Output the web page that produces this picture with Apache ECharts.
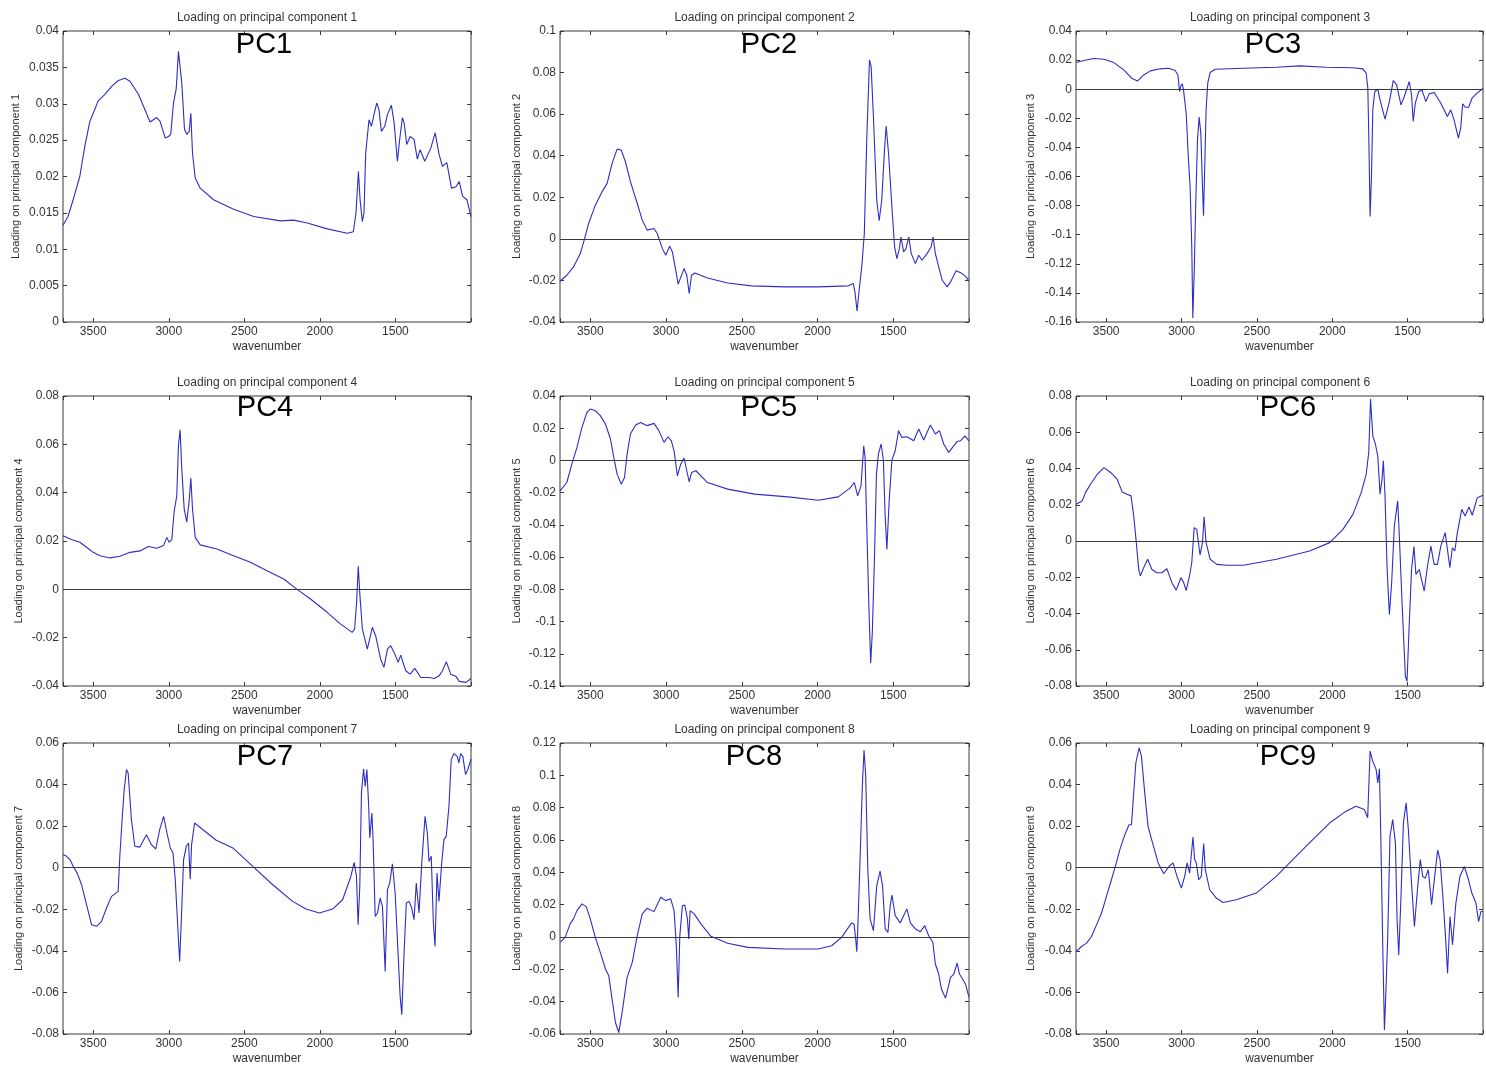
<!DOCTYPE html>
<html>
<head>
<meta charset="utf-8">
<script src="https://cdn.jsdelivr.net/npm/echarts@6/dist/echarts.min.js"></script>
<style>
html,body{margin:0;padding:0;background:#fff;}
#chart{width:1486px;height:1069px;}
</style>
</head>
<body>
<div id="chart"></div>
<script>
// ---------- data ----------
const xLabel = 'wavenumber';
const panelTitles = [1,2,3,4,5,6,7,8,9].map(n => 'Loading on principal component ' + n);
const yNames = panelTitles;
const pcLabels = ['PC1','PC2','PC3','PC4','PC5','PC6','PC7','PC8','PC9'];
const xMin = 1000, xMax = 3700, xStep = 500;
const yMin  = [0,     -0.04, -0.16, -0.04, -0.14, -0.08, -0.08, -0.06, -0.08];
const yMax  = [0.04,   0.1,   0.04,  0.08,  0.04,  0.08,  0.06,  0.12,  0.06];
const yStep = [0.005,  0.02,  0.02,  0.02,  0.02,  0.02,  0.02,  0.02,  0.02];

const pc1 = [[3700,0.0133],[3667,0.0145],[3633,0.0168],[3589,0.020],[3555,0.0242],[3522,0.0276],[3500,0.0287],[3467,0.0304],[3423,0.0313],[3378,0.0324],[3334,0.0332],[3290,0.0335],[3257,0.0331],[3201,0.0313],[3168,0.0297],[3124,0.0275],[3080,0.0281],[3058,0.0276],[3024,0.0253],[3002,0.0255],[2987,0.0258],[2969,0.0301],[2951,0.032],[2936,0.0372],[2925,0.037],[2914,0.0329],[2896,0.0265],[2881,0.0258],[2865,0.0262],[2854,0.0287],[2843,0.0232],[2825,0.0198],[2792,0.0184],[2704,0.0168],[2571,0.0155],[2438,0.0145],[2261,0.0139],[2173,0.014],[2084,0.0136],[1951,0.0128],[1819,0.0122],[1779,0.0124],[1761,0.015],[1745,0.0207],[1734,0.0168],[1719,0.0138],[1708,0.015],[1697,0.0232],[1675,0.0278],[1659,0.0269],[1642,0.0285],[1624,0.0301],[1609,0.0292],[1593,0.0262],[1571,0.0269],[1553,0.0285],[1527,0.0298],[1509,0.0274],[1487,0.0221],[1472,0.0251],[1454,0.0281],[1443,0.0274],[1425,0.0244],[1403,0.0255],[1377,0.0251],[1355,0.0224],[1337,0.0237],[1306,0.0221],[1266,0.0239],[1237,0.026],[1211,0.023],[1189,0.0214],[1160,0.0219],[1129,0.0184],[1100,0.0186],[1078,0.0193],[1056,0.0173],[1027,0.0168],[1000,0.0145]];

const pc2 = [[3700,-0.0204],[3655,-0.0175],[3611,-0.0135],[3566,-0.0071],[3538,0],[3511,0.0074],[3467,0.0162],[3423,0.0226],[3389,0.0267],[3356,0.0363],[3323,0.0432],[3296,0.0427],[3268,0.0371],[3235,0.0275],[3190,0.017],[3157,0.009],[3124,0.0042],[3080,0.005],[3058,0.0026],[3024,-0.0047],[3002,-0.0079],[2976,-0.0035],[2958,-0.0063],[2940,-0.0135],[2920,-0.0218],[2881,-0.0143],[2863,-0.0175],[2847,-0.0263],[2832,-0.0175],[2810,-0.0164],[2726,-0.0188],[2593,-0.0212],[2438,-0.0226],[2217,-0.0231],[1996,-0.0231],[1797,-0.0226],[1764,-0.0215],[1753,-0.0255],[1739,-0.0347],[1724,-0.0239],[1708,-0.0135],[1691,0.0026],[1675,0.0475],[1657,0.0861],[1646,0.0829],[1631,0.0588],[1609,0.0186],[1593,0.0087],[1576,0.0186],[1558,0.0427],[1547,0.0543],[1531,0.0411],[1509,0.0154],[1491,-0.0039],[1476,-0.0095],[1460,-0.0047],[1449,0.001],[1432,-0.0063],[1416,-0.0047],[1398,0.001],[1381,-0.0071],[1354,-0.0119],[1332,-0.0079],[1310,-0.0103],[1277,-0.0071],[1250,-0.0039],[1237,0.001],[1222,-0.0071],[1200,-0.0135],[1177,-0.0199],[1144,-0.0231],[1122,-0.0207],[1085,-0.0154],[1045,-0.0167],[1019,-0.0183],[1000,-0.0204]];

const pc3 = [[3700,0.0183],[3648,0.0197],[3582,0.0211],[3515,0.0206],[3449,0.0183],[3383,0.0133],[3328,0.0073],[3291,0.0057],[3251,0.0098],[3207,0.0126],[3141,0.014],[3086,0.0144],[3042,0.0128],[3024,0.0098],[3013,-0.0016],[3004,0.0023],[2995,0.0037],[2987,-0.0005],[2969,-0.0165],[2954,-0.0486],[2943,-0.0669],[2932,-0.1081],[2925,-0.1573],[2916,-0.1264],[2905,-0.076],[2894,-0.0348],[2883,-0.0192],[2872,-0.0302],[2861,-0.0669],[2854,-0.087],[2846,-0.0531],[2837,-0.0142],[2826,0.0041],[2810,0.0115],[2777,0.0137],[2590,0.0144],[2370,0.0151],[2216,0.016],[2039,0.0151],[1863,0.0147],[1797,0.014],[1775,0.011],[1764,0.0007],[1758,-0.0302],[1749,-0.0875],[1740,-0.06],[1731,-0.0142],[1718,-0.0016],[1698,0],[1683,-0.0073],[1650,-0.0206],[1621,-0.0085],[1595,0.006],[1573,0.003],[1544,-0.0108],[1522,-0.005],[1489,0.0053],[1474,-0.0039],[1463,-0.0222],[1449,-0.0096],[1427,-0.0016],[1405,-0.0005],[1379,-0.0085],[1357,-0.0032],[1324,-0.0023],[1280,-0.0096],[1236,-0.0188],[1214,-0.0142],[1192,-0.0211],[1163,-0.0337],[1148,-0.0268],[1135,-0.0101],[1117,-0.0124],[1095,-0.0124],[1073,-0.0062],[1040,-0.0027],[1000,0.0005]];

const pc4 = [[3700,0.0222],[3644,0.0206],[3588,0.0195],[3544,0.0174],[3500,0.0153],[3456,0.0139],[3389,0.013],[3323,0.0137],[3257,0.0153],[3190,0.0159],[3135,0.0177],[3080,0.017],[3035,0.0181],[3013,0.0215],[2998,0.0195],[2980,0.0206],[2965,0.0319],[2947,0.0388],[2936,0.0595],[2925,0.066],[2914,0.0499],[2898,0.0333],[2881,0.0278],[2865,0.0367],[2854,0.0461],[2843,0.0333],[2825,0.0215],[2792,0.0184],[2682,0.0167],[2571,0.0139],[2460,0.0112],[2350,0.0077],[2239,0.0043],[2151,0],[2062,-0.004],[1952,-0.0095],[1863,-0.0144],[1786,-0.0178],[1770,-0.0164],[1757,-0.0054],[1746,0.0095],[1735,-0.0026],[1719,-0.0164],[1686,-0.0247],[1653,-0.0157],[1631,-0.0192],[1598,-0.0289],[1576,-0.0323],[1553,-0.0247],[1531,-0.0233],[1509,-0.0261],[1482,-0.0302],[1465,-0.0272],[1432,-0.0337],[1403,-0.0351],[1372,-0.0327],[1332,-0.0365],[1277,-0.0365],[1244,-0.0369],[1211,-0.0358],[1189,-0.0337],[1163,-0.03],[1134,-0.0351],[1100,-0.036],[1078,-0.0381],[1033,-0.0385],[1000,-0.0369]];

const pc5 = [[3700,-0.0189],[3655,-0.0137],[3622,-0.0023],[3588,0.0081],[3555,0.0205],[3522,0.0299],[3500,0.0319],[3467,0.0309],[3434,0.0278],[3400,0.0226],[3367,0.0133],[3345,0.0019],[3323,-0.0085],[3296,-0.0147],[3274,-0.0106],[3257,0.0039],[3235,0.0164],[3201,0.022],[3168,0.0236],[3124,0.0216],[3080,0.023],[3047,0.0185],[3013,0.0112],[2987,0.0147],[2965,0.0122],[2947,0.006],[2925,-0.0095],[2903,-0.0023],[2881,0.0015],[2863,-0.0064],[2847,-0.0133],[2832,-0.0075],[2803,-0.0064],[2726,-0.0137],[2593,-0.0178],[2416,-0.0209],[2195,-0.0226],[1996,-0.0247],[1863,-0.0226],[1786,-0.0172],[1757,-0.0137],[1735,-0.022],[1713,-0.0158],[1695,0.0091],[1686,0.0019],[1673,-0.0479],[1660,-0.0935],[1649,-0.1257],[1638,-0.106],[1624,-0.0604],[1611,-0.0085],[1598,0.0039],[1580,0.0102],[1565,-0.0002],[1554,-0.0334],[1542,-0.0552],[1527,-0.0251],[1509,0.0002],[1487,0.006],[1465,0.0185],[1443,0.0143],[1410,0.0147],[1365,0.0122],[1332,0.0195],[1299,0.0127],[1255,0.022],[1222,0.0164],[1195,0.0185],[1167,0.0102],[1134,0.005],[1078,0.0118],[1056,0.0122],[1027,0.0153],[1000,0.0122]];

const pc6 = [[3700,0.0203],[3659,0.0221],[3637,0.0267],[3604,0.0313],[3559,0.0368],[3515,0.0405],[3471,0.0378],[3427,0.0341],[3394,0.0271],[3361,0.0258],[3335,0.0249],[3317,0.0138],[3300,-0.0009],[3284,-0.0157],[3273,-0.0193],[3251,-0.0147],[3225,-0.0101],[3196,-0.0157],[3163,-0.0175],[3130,-0.0175],[3097,-0.0153],[3064,-0.023],[3035,-0.0271],[3004,-0.0203],[2987,-0.0227],[2969,-0.0273],[2947,-0.0193],[2932,-0.012],[2916,0.0074],[2899,0.0064],[2877,-0.0077],[2861,-0.0009],[2850,0.0133],[2837,-0.0009],[2810,-0.0101],[2766,-0.0129],[2700,-0.0134],[2590,-0.0134],[2370,-0.0101],[2150,-0.0055],[2017,-0.0009],[1929,0.0064],[1863,0.0147],[1808,0.0267],[1775,0.0368],[1758,0.0488],[1746,0.0783],[1731,0.058],[1714,0.0534],[1698,0.047],[1683,0.0258],[1670,0.0341],[1661,0.0442],[1650,0.0249],[1636,-0.0157],[1621,-0.0405],[1606,-0.023],[1588,0.0083],[1566,0.0221],[1555,0.0028],[1537,-0.0341],[1515,-0.0746],[1504,-0.0774],[1489,-0.0451],[1474,-0.0157],[1458,-0.0031],[1445,-0.0184],[1423,-0.0157],[1390,-0.0276],[1368,-0.0138],[1346,-0.0028],[1324,-0.0129],[1302,-0.0129],[1280,-0.0028],[1251,0.0046],[1236,-0.0046],[1220,-0.0147],[1203,-0.0037],[1187,-0.0055],[1170,0.0046],[1141,0.0175],[1119,0.0138],[1093,0.0188],[1071,0.0142],[1038,0.0239],[1000,0.0252]];

const pc7 = [[3700,0.0063],[3676,0.0055],[3654,0.0039],[3632,0.0006],[3606,-0.0026],[3577,-0.0082],[3555,-0.0146],[3533,-0.021],[3511,-0.0274],[3478,-0.0282],[3445,-0.0258],[3412,-0.0194],[3379,-0.0138],[3350,-0.0122],[3335,-0.0114],[3324,0.0055],[3306,0.0263],[3295,0.0375],[3280,0.0472],[3269,0.0456],[3247,0.0231],[3225,0.0103],[3192,0.0099],[3148,0.0159],[3115,0.0111],[3086,0.009],[3060,0.0183],[3034,0.0247],[3012,0.0167],[2990,0.0095],[2972,0.0071],[2957,-0.0058],[2943,-0.025],[2928,-0.0451],[2917,-0.025],[2902,0.0039],[2884,0.0103],[2869,0.0119],[2858,-0.0055],[2849,0.0111],[2829,0.0215],[2796,0.0196],[2686,0.0132],[2576,0.0095],[2444,0.0006],[2312,-0.0082],[2180,-0.0162],[2092,-0.0199],[2004,-0.0218],[1916,-0.0199],[1850,-0.0154],[1795,-0.0042],[1773,0.0026],[1758,-0.0042],[1747,-0.0274],[1736,-0.009],[1725,0.0359],[1711,0.0475],[1700,0.0391],[1689,0.0472],[1678,0.0311],[1670,0.0143],[1656,0.0263],[1648,0.0135],[1634,-0.0234],[1619,-0.0218],[1601,-0.0146],[1586,-0.0186],[1568,-0.0499],[1553,-0.0106],[1538,-0.0074],[1520,0.0019],[1502,-0.0122],[1487,-0.0346],[1469,-0.0619],[1458,-0.0707],[1443,-0.0411],[1428,-0.017],[1410,-0.0162],[1392,-0.0194],[1377,-0.025],[1362,-0.0074],[1344,-0.0218],[1326,0.0022],[1304,0.0247],[1289,0.0167],[1278,0.003],[1263,0.0055],[1249,-0.0266],[1238,-0.0379],[1225,-0.0026],[1212,-0.0162],[1194,0.0022],[1179,0.0135],[1164,0.0151],[1146,0.0295],[1131,0.052],[1113,0.0549],[1091,0.0536],[1080,0.0504],[1069,0.0549],[1054,0.0536],[1036,0.0448],[1021,0.0472],[1000,0.0523]];

const pc8 = [[3700,-0.0033],[3666,-0.0002],[3633,0.0081],[3611,0.0112],[3588,0.0163],[3555,0.0205],[3527,0.0188],[3500,0.0112],[3467,-0.0002],[3434,-0.0095],[3400,-0.0198],[3378,-0.024],[3356,-0.0384],[3334,-0.0529],[3312,-0.0591],[3290,-0.0467],[3257,-0.025],[3223,-0.0157],[3190,0.0008],[3157,0.0143],[3124,0.0178],[3080,0.0157],[3035,0.0246],[3002,0.0225],[2969,0.0236],[2947,0.0163],[2932,-0.0054],[2920,-0.0374],[2909,0.0008],[2892,0.0194],[2876,0.0198],[2859,0.0112],[2850,-0.0012],[2841,0.0163],[2814,0.0143],[2770,0.0081],[2704,0.0004],[2593,-0.0039],[2460,-0.0064],[2217,-0.0074],[1996,-0.0074],[1907,-0.0054],[1841,-0.0002],[1775,0.0087],[1759,0.0081],[1748,-0.0012],[1741,-0.0091],[1735,0.0029],[1719,0.0483],[1704,0.0938],[1693,0.1155],[1682,0.1],[1668,0.0421],[1653,0.0112],[1631,0.0039],[1609,0.0318],[1587,0.0407],[1571,0.0318],[1553,0.005],[1535,0.0029],[1520,0.0194],[1509,0.026],[1487,0.0132],[1454,0.0087],[1432,0.0132],[1410,0.0174],[1387,0.0087],[1354,0.005],[1321,0.0033],[1292,0.007],[1266,0.0008],[1239,-0.0033],[1222,-0.0167],[1200,-0.0229],[1182,-0.0322],[1155,-0.0378],[1122,-0.025],[1100,-0.0229],[1078,-0.0161],[1063,-0.0229],[1023,-0.0291],[1000,-0.0374]];

const pc9 = [[3700,-0.0404],[3663,-0.0379],[3630,-0.0363],[3597,-0.0331],[3564,-0.0275],[3531,-0.0219],[3498,-0.0138],[3465,-0.0058],[3436,0.0014],[3409,0.0087],[3376,0.0159],[3348,0.0207],[3332,0.0207],[3321,0.032],[3303,0.0505],[3281,0.0577],[3266,0.0537],[3244,0.036],[3222,0.0199],[3189,0.0111],[3155,0.0023],[3118,-0.0029],[3083,0.0006],[3056,0.0023],[3030,-0.0042],[3001,-0.0098],[2979,-0.0042],[2963,0.0023],[2946,-0.0026],[2924,0.0148],[2913,0.0039],[2902,0.0023],[2886,-0.0058],[2869,-0.0042],[2853,0.0116],[2842,-0.001],[2813,-0.0106],[2769,-0.0146],[2725,-0.0167],[2637,-0.0154],[2504,-0.0122],[2372,-0.0042],[2283,0.0023],[2151,0.0119],[2018,0.0215],[1908,0.0272],[1842,0.0296],[1787,0.028],[1765,0.024],[1749,0.0561],[1732,0.0513],[1709,0.0473],[1698,0.0408],[1687,0.0476],[1676,0.0071],[1665,-0.0379],[1654,-0.0781],[1643,-0.0572],[1632,-0.0331],[1617,0.0151],[1599,0.0232],[1581,0.0119],[1570,-0.0251],[1559,-0.042],[1544,-0.0138],[1528,0.0215],[1510,0.0312],[1495,0.0183],[1477,-0.0042],[1455,-0.0283],[1433,-0.009],[1416,0.0039],[1400,-0.0042],[1383,-0.005],[1363,-0.001],[1341,-0.0178],[1323,-0.0058],[1301,0.0084],[1285,0.0039],[1268,-0.0122],[1250,-0.0315],[1235,-0.0508],[1219,-0.0235],[1202,-0.0371],[1180,-0.017],[1153,-0.0042],[1124,0.0006],[1096,-0.0058],[1074,-0.0122],[1047,-0.017],[1029,-0.0259],[1014,-0.0211],[1000,-0.0211]];

const pcData = [pc1, pc2, pc3, pc4, pc5, pc6, pc7, pc8, pc9];

// ---------- layout ----------
const colLeft = [63, 560, 1076];
const colWidth = [408, 409, 408];
const rowTop = [31, 396, 743];
const rowHeight = [291, 290, 291];
const yNameGap = [42, 37.5, 39.5, 39, 37.5, 39.5, 39, 37.5, 39.5];
const pcPos = [[264,45],[769,45],[1273,45],[265,408],[769,408],[1288,408],[265,757],[754,757],[1288,757]];

const FONT = '"Liberation Sans", Arial, Helvetica, sans-serif';
const LINE = '#2e2ec4';
const AXC = '#3a3a3a';
const TXT = '#333';

const grids = [], xAxes = [], yAxes = [], series = [], graphics = [];
for (let i = 0; i < 9; i++) {
  const r = Math.floor(i / 3), c = i % 3;
  const g = {left: colLeft[c], top: rowTop[r], width: colWidth[c], height: rowHeight[r],
    show: true, borderColor: AXC, borderWidth: 1, backgroundColor: '#fff', containLabel: false};
  grids.push(g);
  const tick = {show: true, inside: true, length: 4, lineStyle: {color: AXC, width: 1}};
  xAxes.push({
    type: 'value', gridIndex: i, position: 'bottom', min: xMin, max: xMax, interval: xStep, inverse: true,
    axisLine: {show: false, onZero: false}, axisTick: tick, splitLine: {show: false},
    axisLabel: {margin: 4, fontSize: 12, fontFamily: FONT, color: TXT,
      formatter: v => (v % 500 === 0 && v !== 1000 && v !== 3700) ? String(v) : ''},
    name: xLabel, nameLocation: 'middle', nameGap: 19,
    nameTextStyle: {fontSize: 12, fontFamily: FONT, color: TXT}
  });
  xAxes.push({
    type: 'value', gridIndex: i, position: 'top', min: xMin, max: xMax, interval: xStep, inverse: true,
    axisLine: {show: false, onZero: false}, axisTick: tick, splitLine: {show: false}, axisLabel: {show: false}
  });
  yAxes.push({
    type: 'value', gridIndex: i, position: 'left', min: yMin[i], max: yMax[i], interval: yStep[i],
    axisLine: {show: false, onZero: false}, axisTick: tick, splitLine: {show: false},
    axisLabel: {margin: 4, fontSize: 12, fontFamily: FONT, color: TXT},
    name: yNames[i], nameLocation: 'middle', nameGap: yNameGap[i],
    nameTextStyle: {fontSize: 11, fontFamily: FONT, color: TXT}
  });
  yAxes.push({
    type: 'value', gridIndex: i, position: 'right', min: yMin[i], max: yMax[i], interval: yStep[i],
    axisLine: {show: false, onZero: false}, axisTick: tick, splitLine: {show: false}, axisLabel: {show: false}
  });
  const s = {
    type: 'line', xAxisIndex: 2 * i, yAxisIndex: 2 * i, data: pcData[i],
    showSymbol: false, symbol: 'none', lineStyle: {color: LINE, width: 1.1}, silent: true,
    animation: false, z: 3
  };
  if (yMin[i] < 0) {
    s.markLine = {silent: true, symbol: ['none', 'none'], label: {show: false},
      lineStyle: {color: AXC, width: 1, type: 'solid'}, data: [{yAxis: 0}], animation: false};
  }
  series.push(s);
  graphics.push({type: 'text', x: g.left + g.width / 2, y: g.top - 13,
    style: {text: panelTitles[i], font: '12px ' + FONT, fill: TXT, textAlign: 'center', textVerticalAlign: 'middle'}});
  graphics.push({type: 'text', x: pcPos[i][0], y: pcPos[i][1], z: 10,
    style: {text: pcLabels[i], font: '29px ' + FONT, fill: '#000', textAlign: 'center', textVerticalAlign: 'middle'}});
}

const chart = echarts.init(document.getElementById('chart'), null, {renderer: 'canvas'});
chart.setOption({
  backgroundColor: '#fff',
  animation: false,
  grid: grids, xAxis: xAxes, yAxis: yAxes, series: series, graphic: graphics
});
</script>
</body>
</html>
